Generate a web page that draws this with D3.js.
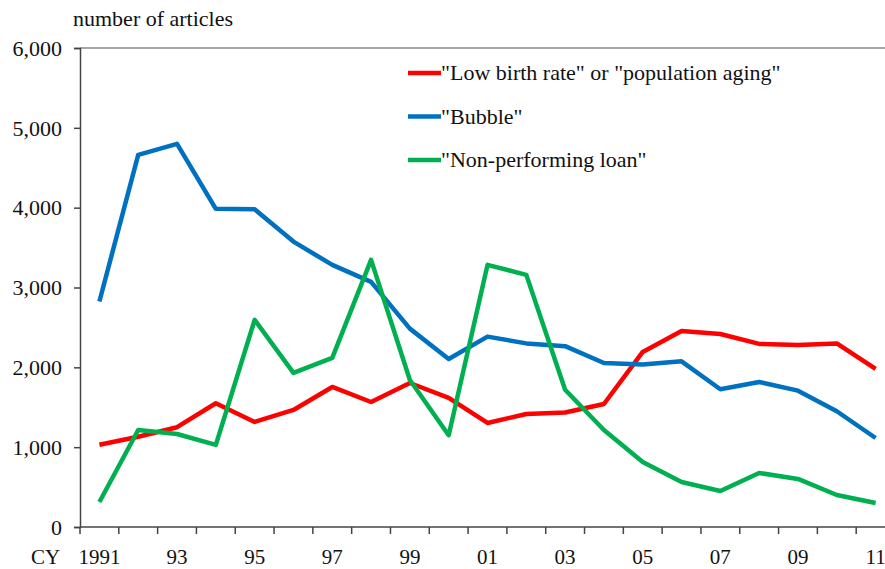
<!DOCTYPE html>
<html>
<head>
<meta charset="utf-8">
<script src="https://cdn.jsdelivr.net/npm/d3@7"></script>
<style>
  body { margin: 0; background: #fff; }
</style>
</head>
<body>
<div id="chart"></div>
<script>
const years = ['1991', '1992', '1993', '1994', '1995', '1996', '1997', '1998', '1999', '2000',
  '2001', '2002', '2003', '2004', '2005', '2006', '2007', '2008', '2009', '2010', '2011'];
const yearLabels = ['1991', '', '93', '', '95', '', '97', '', '99', '', '01', '', '03', '', '05', '', '07', '', '09', '', '11'];

const lowBirth = [1030, 1130, 1250, 1550, 1316, 1466, 1754, 1566, 1804, 1617,
  1303, 1416, 1435, 1541, 2193, 2456, 2418, 2293, 2281, 2300, 1980];
const bubble = [2825, 4662, 4800, 3985, 3980, 3575, 3283, 3070, 2485, 2105,
  2385, 2300, 2265, 2055, 2035, 2075, 1725, 1817, 1708, 1450, 1115];
const npl = [313, 1215, 1165, 1028, 2594, 1930, 2118, 3346, 1842, 1150,
  3283, 3158, 1720, 1215, 815, 564, 451, 677, 602, 401, 301];

const seriesNames = ['"Low birth rate" or "population aging"', '"Bubble"', '"Non-performing loan"'];
const seriesColors = ['#ff0000', '#0070c0', '#00b050'];
const yTicks = [0, 1000, 2000, 3000, 4000, 5000, 6000];

const FONT = '"Liberation Serif", "Times New Roman", "DejaVu Serif", serif';
const W = 885, H = 569;
const m = { top: 48, right: -10, bottom: 42, left: 80 };
const w = W - m.left - m.right, h = H - m.top - m.bottom;

const svg = d3.select('#chart').append('svg')
  .attr('width', W)
  .attr('height', H)
  .style('font-family', FONT);

const g = svg.append('g').attr('transform', `translate(${m.left},${m.top})`);

const x = d3.scaleBand().domain(years).range([0, w]);
const y = d3.scaleLinear().domain([0, 6000]).range([h, 0]);

// top frame line
g.append('line')
  .attr('x1', 0).attr('x2', w)
  .attr('y1', 0).attr('y2', 0)
  .attr('stroke', '#888').attr('stroke-width', 1.5);

// y axis
const yAxis = g.append('g')
  .call(d3.axisLeft(y).tickValues(yTicks).tickSize(6).tickPadding(12).tickFormat(d3.format(',')));
yAxis.attr('font-family', null).attr('font-size', null);
yAxis.select('.domain').attr('stroke', '#444').attr('stroke-width', 1.5);
yAxis.selectAll('.tick line').attr('stroke', '#444').attr('stroke-width', 1.5);
yAxis.selectAll('.tick text')
  .style('font-family', FONT)
  .style('font-size', '22px')
  .attr('fill', '#111')
  .attr('dy', '0.33em');

// x axis: ticks at band boundaries
const xAxisG = g.append('g').attr('transform', `translate(0,${h})`);
xAxisG.append('line')
  .attr('x1', 0).attr('x2', w)
  .attr('stroke', '#444').attr('stroke-width', 1.5);
xAxisG.selectAll('.tk')
  .data(years)
  .enter()
  .append('line')
  .attr('class', 'tk')
  .attr('x1', d => x(d)).attr('x2', d => x(d))
  .attr('y1', 0).attr('y2', 7)
  .attr('stroke', '#444').attr('stroke-width', 1.5);
xAxisG.selectAll('.lbl')
  .data(years)
  .enter()
  .append('text')
  .attr('class', 'lbl')
  .attr('x', d => x(d) + x.bandwidth() / 2)
  .attr('y', 37)
  .attr('text-anchor', 'middle')
  .attr('fill', '#111')
  .style('font-size', '21px')
  .text((d, i) => yearLabels[i]);
xAxisG.append('text')
  .attr('x', -49).attr('y', 37)
  .attr('fill', '#111')
  .style('font-size', '21px')
  .text('CY');

// axis title
svg.append('text')
  .attr('x', 73).attr('y', 26)
  .attr('fill', '#111')
  .style('font-size', '22px')
  .text('number of articles');

// lines
const line = d3.line()
  .x((d, i) => x(years[i]) + x.bandwidth() / 2)
  .y(d => y(d));

[lowBirth, bubble, npl].forEach((data, i) => {
  g.append('path')
    .datum(data)
    .attr('fill', 'none')
    .attr('stroke', seriesColors[i])
    .attr('stroke-width', 4.5)
    .attr('stroke-linejoin', 'round')
    .attr('d', line);
});

// legend
const legend = svg.append('g').attr('transform', 'translate(408,73)');
seriesNames.forEach((name, i) => {
  const row = legend.append('g').attr('transform', `translate(0,${i * 43.5})`);
  row.append('line')
    .attr('x1', 0).attr('x2', 33)
    .attr('stroke', seriesColors[i])
    .attr('stroke-width', 4.5);
  row.append('text')
    .attr('x', 33).attr('y', 7)
    .attr('fill', '#111')
    .style('font-size', '22px')
    .text(name);
});
</script>
</body>
</html>
